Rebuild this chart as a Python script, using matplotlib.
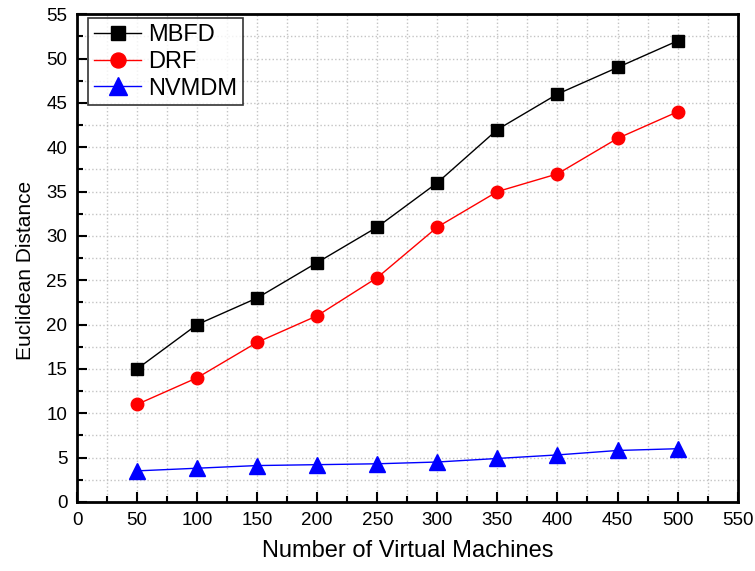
import matplotlib
matplotlib.use("Agg")
import matplotlib.pyplot as plt
from matplotlib.ticker import MultipleLocator

plt.rcParams['font.family'] = ['Liberation Sans', 'DejaVu Sans']

vms = [50, 100, 150, 200, 250, 300, 350, 400, 450, 500]
mbfd = [15, 20, 23, 27, 31, 36, 42, 46, 49, 52]
drf = [11, 14, 18, 21, 25.3, 31, 35, 37, 41, 44]
nvmdm = [3.5, 3.8, 4.1, 4.2, 4.3, 4.5, 4.9, 5.3, 5.8, 6.0]

fig = plt.figure(figsize=(7.55, 5.71), dpi=100)
ax = fig.add_axes([0.102, 0.121, 0.875, 0.854])

ax.plot(vms, mbfd, color='black', marker='s', markersize=8, linewidth=1, label='MBFD')
ax.plot(vms, drf, color='red', marker='o', markersize=9, linewidth=1, label='DRF')
ax.plot(vms, nvmdm, color='blue', marker='^', markersize=11, linewidth=1, label='NVMDM')

ax.set_xlim(0, 550)
ax.set_ylim(0, 55)
ax.xaxis.set_major_locator(MultipleLocator(50))
ax.xaxis.set_minor_locator(MultipleLocator(25))
ax.yaxis.set_major_locator(MultipleLocator(5))
ax.yaxis.set_minor_locator(MultipleLocator(2.5))

ax.grid(True, which='both', linestyle=':', color='#c4c4c4', linewidth=1)
ax.tick_params(which='major', direction='in', length=7, width=1.5, labelsize=13.5, pad=7)
ax.tick_params(which='minor', direction='in', length=4, width=1.5)
for s in ax.spines.values():
    s.set_linewidth(2)

ax.set_xlabel('Number of Virtual Machines', fontsize=17, labelpad=8)
ax.set_ylabel('Euclidean Distance', fontsize=15)
ax.yaxis.set_label_coords(-0.064, 0.475)

leg = ax.legend(loc='upper left', fontsize=17, frameon=True, fancybox=False,
                edgecolor='black', handlelength=2.0, handletextpad=0.3,
                borderpad=0.25, labelspacing=0.2, borderaxespad=0,
                bbox_to_anchor=(0.017, 0.992), markerscale=1.2)
leg.get_frame().set_linewidth(1.2)

fig.savefig('out.png', dpi=100)
